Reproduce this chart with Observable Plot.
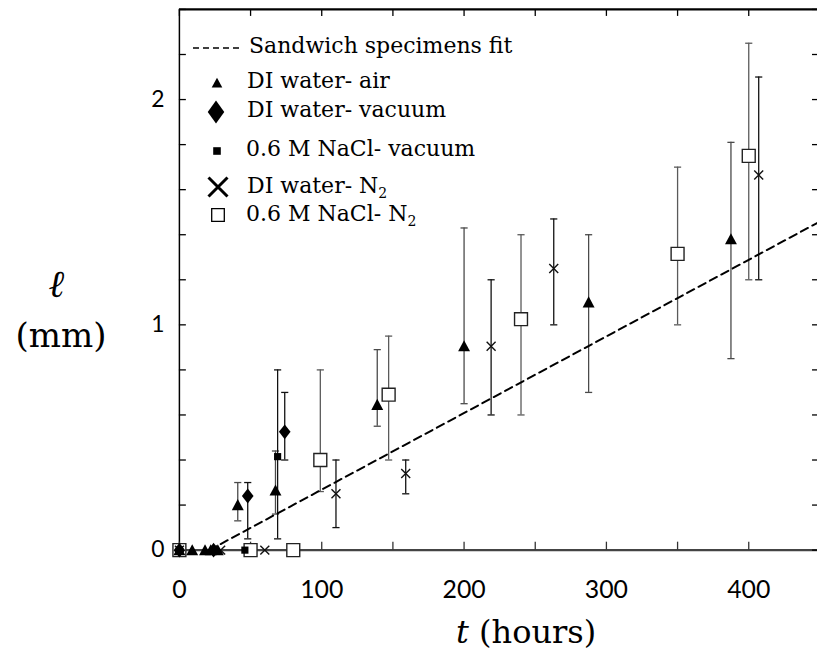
<!DOCTYPE html>
<html><head><meta charset="utf-8">
<script src="https://cdn.jsdelivr.net/npm/d3@7"></script>
<script src="https://cdn.jsdelivr.net/npm/@observablehq/plot@0.6"></script>
<style>
html,body{margin:0;padding:0;background:#fff;overflow:hidden;}
#wrap{position:relative;width:817px;height:654px;overflow:hidden;background:#fff;}
#wrap svg{position:absolute;left:0;top:0;}
</style></head><body><div id="wrap"></div>
<script>
// ---- data ----
const xTickLabels = [0, 100, 200, 300, 400];
const xMinorTicks = [0, 50, 100, 150, 200, 250, 300, 350, 400];
const yTickLabels = [0, 1, 2];
const yMinorTicks = [0, 0.2, 0.4, 0.6, 0.8, 1.0, 1.2, 1.4, 1.6, 1.8, 2.0, 2.2, 2.4];
const xDomain = [0, 448.3];
const yDomain = [0, 2.4];

// Sandwich specimens fit (dashed line)
const fitT = [21, 448];
const fitL = [0, 1.452];

// DI water- air (filled triangles)
const airT  = [0, 9, 18, 22, 27, 41, 67.5, 139, 200, 287.5, 387.5];
const airL  = [0, 0, 0, 0, 0, 0.20, 0.265, 0.645, 0.905, 1.10, 1.38];
const airLo = [null, null, null, null, null, 0.13, 0.16, 0.55, 0.65, 0.70, 0.85];
const airHi = [null, null, null, null, null, 0.30, 0.44, 0.89, 1.43, 1.40, 1.81];

// DI water- vacuum (filled diamonds)
const dvT  = [0, 24, 48, 74];
const dvL  = [0, 0, 0.24, 0.525];
const dvLo = [null, null, 0.05, 0.40];
const dvHi = [null, null, 0.30, 0.70];

// 0.6 M NaCl- vacuum (small filled squares)
const nvT  = [0, 46, 69];
const nvL  = [0, 0, 0.415];
const nvLo = [null, null, 0.05];
const nvHi = [null, null, 0.80];

// DI water- N2 (crosses)
const dnT  = [0, 29, 60, 110, 159, 219, 263, 407];
const dnL  = [0, 0, 0, 0.25, 0.34, 0.905, 1.25, 1.665];
const dnLo = [null, null, null, 0.10, 0.25, 0.60, 1.00, 1.20];
const dnHi = [null, null, null, 0.40, 0.40, 1.20, 1.47, 2.10];

// 0.6 M NaCl- N2 (open squares)
const nnT  = [0, 50, 80, 99, 147, 240, 350, 400];
const nnL  = [0, 0, 0, 0.40, 0.69, 1.025, 1.315, 1.75];
const nnLo = [null, null, null, 0.26, 0.40, 0.60, 1.00, 1.20];
const nnHi = [null, null, null, 0.80, 0.95, 1.40, 1.70, 2.25];

// ---- build tables ----
const rows = (T, L, Lo, Hi) => T.map((t, i) => ({t, l: L[i], lo: Lo ? Lo[i] : null, hi: Hi ? Hi[i] : null}));
const errs = (r) => r.filter(d => d.lo != null);
const fit = rows(fitT, fitL);
const air = rows(airT, airL, airLo, airHi);
const dv = rows(dvT, dvL, dvLo, dvHi);
const nv = rows(nvT, nvL, nvLo, nvHi);
const dn = rows(dnT, dnL, dnLo, dnHi);
const nn = rows(nnT, nnL, nnLo, nnHi);

// ---- custom symbols ----
const rad = s => Math.sqrt(s / Math.PI);
const symTri = {draw(c, s){const r = rad(s); c.moveTo(0, -r); c.lineTo(r, r*0.85); c.lineTo(-r, r*0.85); c.closePath();}};
const symDia = {draw(c, s){const r = rad(s); c.moveTo(0, -r); c.lineTo(r*0.78, 0); c.lineTo(0, r); c.lineTo(-r*0.78, 0); c.closePath();}};
const symDiaL = {draw(c, s){const r = rad(s); c.moveTo(0, -r); c.lineTo(r*0.72, 0); c.lineTo(0, r); c.lineTo(-r*0.72, 0); c.closePath();}};
const symSq = {draw(c, s){const r = rad(s); c.rect(-r, -r, 2*r, 2*r);}};
const symX = {draw(c, s){const r = rad(s); c.moveTo(-r, -r); c.lineTo(r, r); c.moveTo(r, -r); c.lineTo(-r, r);}};
const symCap = {draw(c, s){const r = rad(s); c.moveTo(-r, 0); c.lineTo(r, 0);}};

const bars = (data, stroke) => [
  Plot.ruleX(errs(data), {x: "t", y1: "lo", y2: "hi", stroke, strokeWidth: 1.3}),
  Plot.dot(errs(data), {x: "t", y: "hi", symbol: symCap, r: 3.6, stroke, strokeWidth: 1.3}),
  Plot.dot(errs(data), {x: "t", y: "lo", symbol: symCap, r: 3.6, stroke, strokeWidth: 1.3})
];

const chart = Plot.plot({
  width: 822, height: 654,
  marginLeft: 180, marginRight: 0, marginTop: 9, marginBottom: 101,
  style: {background: "transparent", overflow: "visible"},
  x: {domain: xDomain, label: null},
  y: {domain: yDomain, label: null},
  marks: [
    ...bars(nn, "#5a5a5a"),
    ...bars(air, "#4a4a4a"),
    ...bars(dv, "#111"),
    ...bars(nv, "#111"),
    ...bars(dn, "#111"),
    Plot.line(fit, {x: "t", y: "l", stroke: "black", strokeWidth: 2, strokeDasharray: "8,5"}),
    Plot.ruleY([yDomain[0]], {stroke: "#444", strokeWidth: 2.5}),
    Plot.ruleX([xDomain[0]], {stroke: "black", strokeWidth: 1.5}),
    Plot.ruleY([yDomain[1]], {stroke: "black", strokeWidth: 2.2}),
    Plot.axisX({anchor: "bottom", ticks: xMinorTicks, tickSize: -8, tickFormat: () => "", stroke: "#333", strokeWidth: 1.3, label: null}),
    Plot.axisX({anchor: "top", ticks: xMinorTicks, tickSize: -6, tickFormat: () => "", strokeWidth: 1.3, label: null}),
    Plot.axisY({anchor: "left", ticks: yMinorTicks, tickSize: -7, tickFormat: () => "", strokeWidth: 1.3, label: null}),
    Plot.axisY({anchor: "right", ticks: yMinorTicks, tickSize: -6, tickFormat: () => "", strokeWidth: 1.3, label: null}),
    Plot.axisX({anchor: "bottom", ticks: xTickLabels, tickSize: 0, tickPadding: 30, tickFormat: d3.format("d"), fontSize: 25, fontFamily: "Lato", fill: "black", label: null}),
    Plot.axisY({anchor: "left", ticks: yTickLabels, tickSize: 0, tickPadding: 15, tickFormat: d3.format("d"), fontSize: 23, fontFamily: "Lato", fill: "black", label: null}),
    Plot.dot(nn, {x: "t", y: "l", symbol: symSq, r: 6.5, fill: "white", stroke: "#222", strokeWidth: 1.4}),
    Plot.dot(dn, {x: "t", y: "l", symbol: symX, r: 4.5, fill: "none", stroke: "#111", strokeWidth: 1.4}),
    Plot.dot(air, {x: "t", y: "l", symbol: symTri, r: 6, fill: "black", stroke: "none"}),
    Plot.dot(dv, {x: "t", y: "l", symbol: symDia, r: 7.5, fill: "black", stroke: "none"}),
    Plot.dot(nv, {x: "t", y: "l", symbol: symSq, r: 3.6, fill: "black", stroke: "none"})
  ]
});
document.getElementById("wrap").appendChild(chart);

// ---- overlay: axis titles and legend ----
const ov = d3.select("#wrap").append("svg").attr("width", 817).attr("height", 654)
  .style("pointer-events", "none");
const serif = '"DejaVu Serif", serif';

ov.append("text").attr("x", 57).attr("y", 297).attr("text-anchor", "middle")
  .attr("font-family", serif).attr("font-size", 38).attr("font-style", "italic").attr("font-weight", "bold")
  .text("ℓ");
ov.append("text").attr("x", 61).attr("y", 347).attr("text-anchor", "middle")
  .attr("font-family", serif).attr("font-size", 34).text("(mm)");
const xt = ov.append("text").attr("x", 456).attr("y", 643)
  .attr("font-family", serif).attr("font-size", 32);
xt.append("tspan").attr("font-style", "italic").text("t");
xt.append("tspan").text(" (hours)");

const lg = ov.append("g").attr("font-family", serif).attr("font-size", 22).attr("fill", "black");
lg.append("line").attr("x1", 193).attr("x2", 242).attr("y1", 48).attr("y2", 48)
  .attr("stroke", "black").attr("stroke-width", 1.6).attr("stroke-dasharray", "6,4");
lg.append("text").attr("x", 249).attr("y", 53).text("Sandwich specimens fit");

const sym = (type, r) => d3.symbol().type(type).size(Math.PI * r * r)();
lg.append("path").attr("d", sym(symTri, 5.3)).attr("transform", "translate(217,83)").attr("fill", "black");
lg.append("text").attr("x", 247).attr("y", 88).text("DI water- air");
lg.append("path").attr("d", sym(symDiaL, 11.5)).attr("transform", "translate(216,112)").attr("fill", "black");
lg.append("text").attr("x", 247).attr("y", 117).text("DI water- vacuum");
lg.append("path").attr("d", sym(symSq, 3.8)).attr("transform", "translate(217,151)").attr("fill", "black");
lg.append("text").attr("x", 246).attr("y", 156).text("0.6 M NaCl- vacuum");
lg.append("path").attr("d", sym(symX, 9.5)).attr("transform", "translate(218,187)")
  .attr("fill", "none").attr("stroke", "black").attr("stroke-width", 3);
const t5 = lg.append("text").attr("x", 247).attr("y", 193);
t5.append("tspan").text("DI water- N");
t5.append("tspan").attr("font-size", 14).attr("dy", 5).text("2");
lg.append("path").attr("d", sym(symSq, 6.3)).attr("transform", "translate(218,215)")
  .attr("fill", "white").attr("stroke", "black").attr("stroke-width", 1.3);
const t6 = lg.append("text").attr("x", 246).attr("y", 221);
t6.append("tspan").text("0.6 M NaCl- N");
t6.append("tspan").attr("font-size", 14).attr("dy", 5).text("2");
</script>
</body></html>
